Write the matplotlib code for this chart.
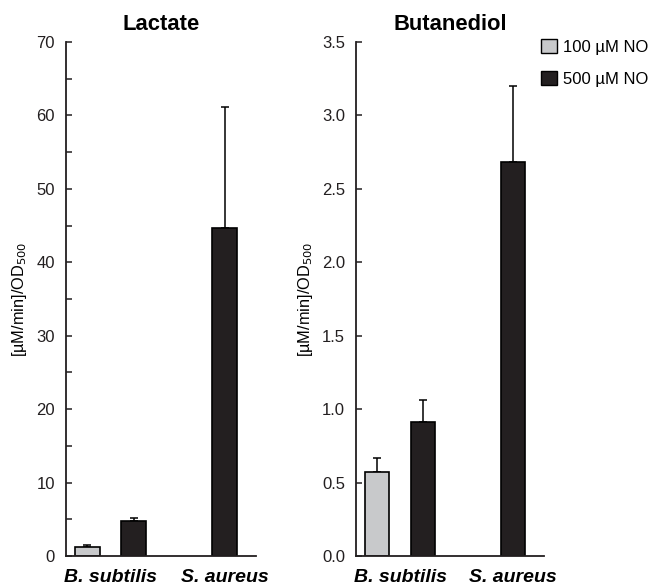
import numpy as np
import matplotlib
matplotlib.use('Agg')
import matplotlib.pyplot as plt
from matplotlib.patches import Patch

plt.rcParams['font.family'] = ['Liberation Sans', 'DejaVu Sans']

species = ["B. subtilis", "S. aureus"]
doses = ["100 µM NO", "500 µM NO"]

# nan = no bar for that group
lactate_100 = [1.2, np.nan]
lactate_100_err = [0.3, np.nan]
lactate_500 = [4.8, 44.7]
lactate_500_err = [0.4, 16.5]

butanediol_100 = [0.57, np.nan]
butanediol_100_err = [0.10, np.nan]
butanediol_500 = [0.91, 2.68]
butanediol_500_err = [0.15, 0.52]

colors = ["#c8c9cb", "#231f20"]
W, H = 654, 585

fig = plt.figure(figsize=(W / 100, H / 100), dpi=100)
ax1 = fig.add_axes([66 / W, 1 - 556 / H, 190 / W, 514 / H])
ax2 = fig.add_axes([356 / W, 1 - 556 / H, 188 / W, 514 / H])

offset = 0.255
width = 0.27
x = np.arange(len(species))


def draw(ax, title, series, errs, ymax, major, minor, fmt):
    pos_used = [[] for _ in species]
    for k, (vals, err) in enumerate(zip(series, errs)):
        xs = x + (k - 0.5) * 2 * offset
        vals = np.array(vals, dtype=float)
        err = np.array(err, dtype=float)
        ok = ~np.isnan(vals)
        ax.bar(xs[ok], vals[ok], width, color=colors[k], edgecolor="black",
               linewidth=1.2, zorder=2)
        ax.errorbar(xs[ok], vals[ok], yerr=[np.zeros(ok.sum()), err[ok]],
                    fmt="none", ecolor="black", elinewidth=1.1, capsize=3.2,
                    capthick=1.1, zorder=1)
        for i in np.where(ok)[0]:
            pos_used[i].append(xs[i])
    ax.set_xlim(-0.49, 1.6)
    ax.set_ylim(0, ymax)
    ax.set_xticks([np.mean(p) for p in pos_used])
    ax.set_xticklabels(species, fontsize=14, fontweight="bold", style="italic")
    ax.tick_params(axis="x", length=0, pad=9.5)
    ax.set_yticks(np.arange(0, ymax + 1e-9, major))
    ax.set_yticklabels([fmt.format(v) for v in np.arange(0, ymax + 1e-9, major)])
    if minor:
        ax.set_yticks(np.arange(0, ymax + 1e-9, minor), minor=True)
    ax.tick_params(axis="y", which="both", direction="in", length=4,
                   width=1.1, labelsize=12, pad=8, colors="#231f20")
    for s in ("top", "right"):
        ax.spines[s].set_visible(False)
    for s in ("left", "bottom"):
        ax.spines[s].set_linewidth(1.3)
        ax.spines[s].set_color("#231f20")
    ax.set_title(title, fontsize=15.8, fontweight="bold", pad=9)
    ax.set_ylabel("[µM/min]/OD$_{500}$", fontsize=11.8, labelpad=5)


draw(ax1, "Lactate", [lactate_100, lactate_500],
     [lactate_100_err, lactate_500_err], 70, 10, 5, "{:.0f}")
draw(ax2, "Butanediol", [butanediol_100, butanediol_500],
     [butanediol_100_err, butanediol_500_err], 3.5, 0.5, None, "{:.1f}")

handles = [Patch(facecolor=c, edgecolor="black", linewidth=1.0) for c in colors]
fig.legend(handles, doses, loc="upper left", bbox_to_anchor=(541 / W, 1 - 39 / H),
           frameon=False, fontsize=12, handlelength=0.95, handleheight=0.95,
           handletextpad=0.35, labelspacing=0.95, borderpad=0, borderaxespad=0)

fig.savefig("out.png", dpi=100)
